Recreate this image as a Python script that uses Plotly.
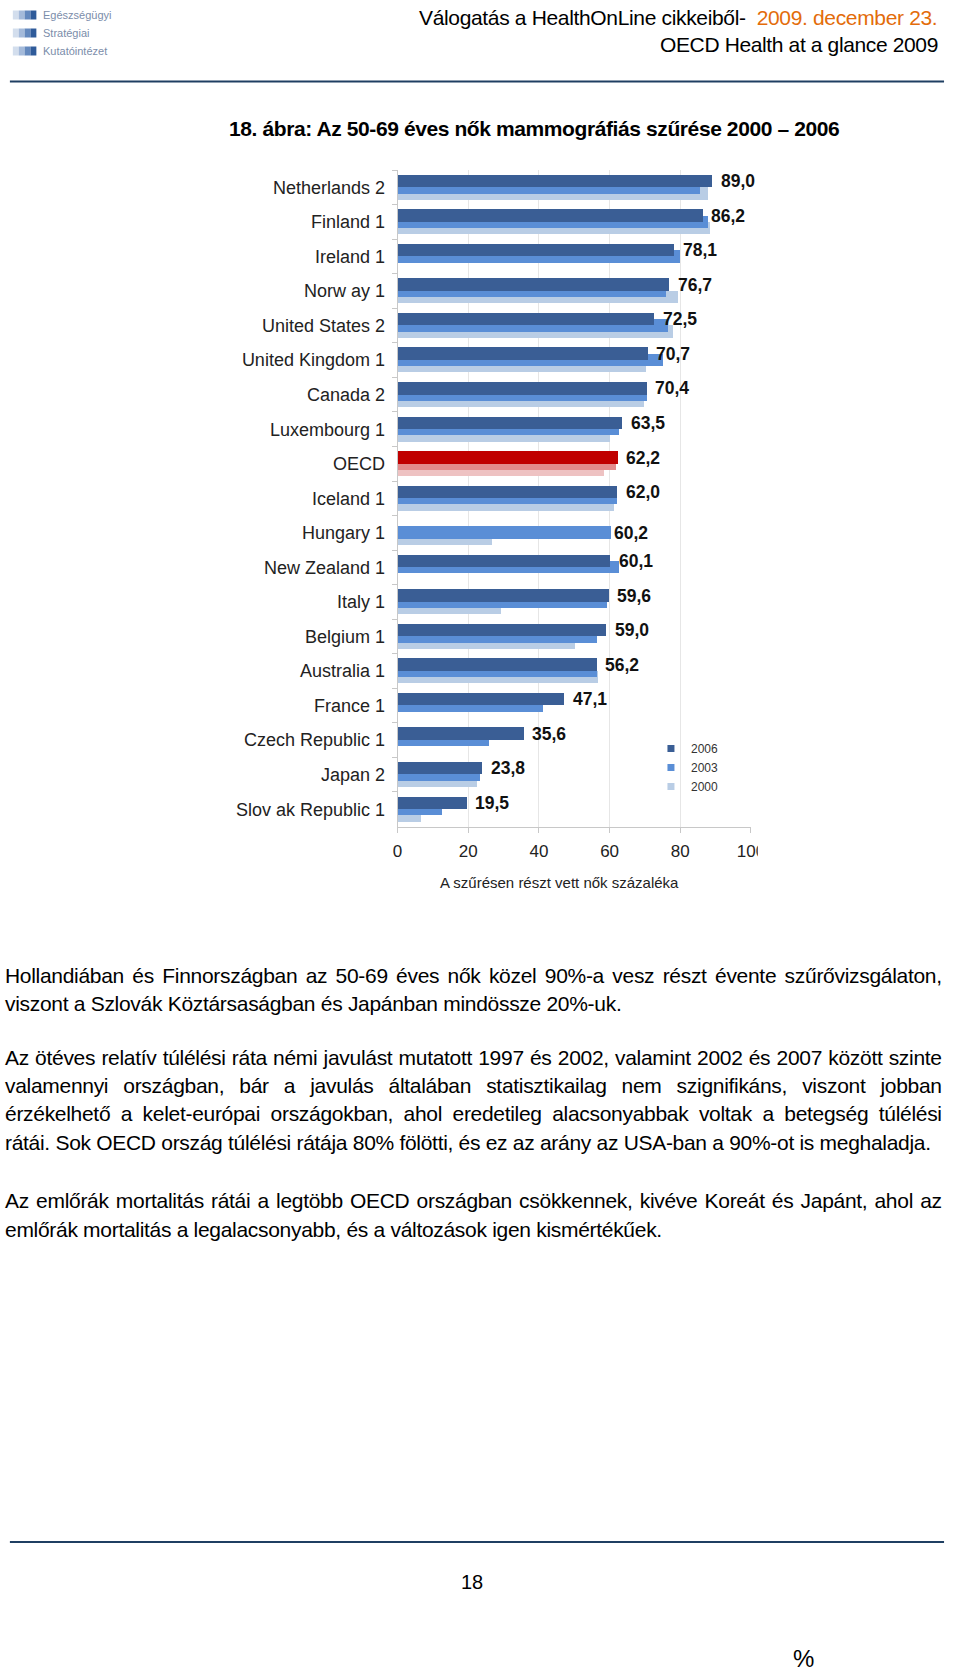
import plotly.graph_objects as go

# --- data ---
countries = ["Netherlands 2", "Finland 1", "Ireland 1", "Norw ay 1", "United States 2",
             "United Kingdom 1", "Canada 2", "Luxembourg 1", "OECD", "Iceland 1",
             "Hungary 1", "New Zealand 1", "Italy 1", "Belgium 1", "Australia 1",
             "France 1", "Czech Republic 1", "Japan 2", "Slov ak Republic 1"]
years = ["2000", "2003", "2006"]
v2006 = [89.0, 86.2, 78.1, 76.7, 72.5, 70.7, 70.4, 63.5, 62.2, 62.0,
         None, 60.1, 59.6, 59.0, 56.2, 47.1, 35.6, 23.8, 19.5]
v2003 = [85.4, 87.7, 79.7, 75.8, 76.4, 75.0, 70.5, 62.5, 61.6, 62.0,
         60.2, 62.5, 59.2, 56.3, 56.3, 41.0, 25.8, 23.3, 12.4]
v2000 = [87.7, 88.2, None, 79.2, 77.8, 70.1, 69.6, 60.1, 58.2, 61.0,
         26.7, None, 29.1, 50.0, 56.7, None, None, 22.4, 6.6]
x_ticks = [0, 20, 40, 60, 80, 100]

W, H = 960, 1667
ARIAL = "Liberation Sans, Arial, sans-serif"

colors = {"2006": "#3A5E95", "2003": "#5A8ED6", "2000": "#B9CDE5"}
oecd_colors = {"2006": "#C00000", "2003": "#E38C8C", "2000": "#EEC2C2"}
bar_w = 0.362
offsets = {"2006": -bar_w, "2003": -bar_w / 2, "2000": 0.0}
values = {"2000": v2000, "2003": v2003, "2006": v2006}
cat_px = 34.54  # pixels per category row

# Arial / Liberation Sans advance widths (1/1000 em), used to squeeze the
# page text into the narrow-font widths of the original document
AR = dict(zip("abcdefghijklmnopqrstuvwxyz",
              [556, 556, 500, 556, 556, 278, 556, 556, 222, 222, 500, 222, 833,
               556, 556, 556, 556, 333, 500, 278, 556, 500, 722, 500, 500, 500]))
AR.update(zip("ABCDEFGHIJKLMNOPQRSTUVWXYZ",
              [667, 667, 722, 722, 667, 611, 778, 722, 278, 500, 667, 556, 833,
               722, 778, 667, 778, 722, 667, 611, 722, 667, 944, 667, 667, 611]))
AR.update({c: 556 for c in "0123456789áéóöőúüű–"})
AR.update({" ": 278, ",": 278, ".": 278, "-": 333, "%": 889, ":": 278, "í": 278,
           "\u00a0": 278, "Ö": 778, "Ü": 722, "Á": 667, "É": 667})
ARB = dict(AR)
ARB.update(zip("abcdefghijklmnopqrstuvwxyz",
               [556, 611, 556, 611, 556, 333, 611, 611, 278, 278, 556, 278, 889,
                611, 611, 611, 611, 389, 556, 333, 611, 556, 778, 556, 556, 500]))
ARB.update({c: 611 for c in "óöőúüű"})
ARB.update({":": 333, "A": 722})


def text_width(s, size, bold=False):
    tbl = ARB if bold else AR
    return sum(tbl.get(ch, 556) for ch in s) / 1000.0 * size


def fit_style(s, size, target, bold=False):
    ls = (target - text_width(s, size, bold)) / len(s)
    return f"letter-spacing:{ls:.2f}px"


def px(x):
    return x / W


def py(y):
    return 1 - y / H


fig = go.Figure()

# bars: 2000 drawn first, 2006 last (on top), 50% overlap like the Excel original
for yr in years:
    cols = [oecd_colors[yr] if c == "OECD" else colors[yr] for c in countries]
    fig.add_trace(go.Bar(
        x=values[yr], y=countries, orientation="h",
        width=bar_w, offset=offsets[yr],
        marker=dict(color=cols, line=dict(width=0)),
        showlegend=False, hoverinfo="skip"))

# small square legend markers
for yr in years:
    fig.add_trace(go.Scatter(
        x=[None], y=[None], mode="markers", name=yr,
        marker=dict(symbol="square", size=7, color=colors[yr])))

# value labels: latest available year
annotations = []
for c, a, b in zip(countries, v2006, v2003):
    if a is not None:
        val, shift, xs = a, bar_w / 2 * cat_px, 7
    else:
        val, shift, xs = b, 0, 2
    annotations.append(dict(
        x=val, y=c, xref="x", yref="y",
        text="<b>" + f"{val:.1f}".replace(".", ",") + "</b>",
        showarrow=False, xanchor="left", yanchor="middle", xshift=xs, yshift=shift,
        font=dict(family=ARIAL, size=17.5, color="#111111")))


def page_text(x, y, text, size, anchor="left", color="#000000"):
    annotations.append(dict(
        x=px(x), y=py(y), xref="paper", yref="paper", text=text, showarrow=False,
        xanchor=anchor, yanchor="middle", font=dict(family=ARIAL, size=size, color=color)))


# header (left anchored: plotly measures the text without the letter spacing)
BODY = 21
h1a = "Válogatás a HealthOnLine cikkeiből-\u00a0 "
h1b = "2009. december 23."
st = fit_style(h1a + h1b, BODY, 518)
page_text(938 - 518, 17, f"<span style='{st}'>{h1a}</span>"
          f"<span style='{st};color:#E36C0A'>{h1b}</span>", BODY)
h2 = "OECD Health at a glance 2009"
page_text(944 - 278, 44, f"<span style='{fit_style(h2, BODY, 278)}'>{h2}</span>", BODY)

title = "18. ábra: Az 50-69 éves nők mammográfiás szűrése 2000 – 2006"
page_text(532 - 611 / 2, 129,
          f"<b><span style='{fit_style(title, BODY, 611, True)}'>{title}</span></b>", BODY)

# logo
for yy, word in zip([15, 33, 51], ["Egészségügyi", "Stratégiai", "Kutatóintézet"]):
    page_text(37, yy, word, 11, color="#7B8DAA")

page_text(566, 883, "A szűrésen részt vett nők százaléka", 15, "center", color="#222222")

# body text, justified lines get extra word spacing
body = [
    (975, True, "Hollandiában és Finnországban az 50-69 éves nők közel 90%-a vesz részt évente szűrővizsgálaton,"),
    (1003, False, "viszont a Szlovák Köztársaságban és Japánban mindössze 20%-uk."),
    (1057, True, "Az ötéves relatív túlélési ráta némi javulást mutatott 1997 és 2002, valamint 2002 és 2007 között szinte"),
    (1085, True, "valamennyi országban, bár a javulás általában statisztikailag nem szignifikáns, viszont jobban"),
    (1113, True, "érzékelhető a kelet-európai országokban, ahol eredetileg alacsonyabbak voltak a betegség túlélési"),
    (1142, False, "rátái. Sok OECD ország túlélési rátája 80% fölötti, és ez az arány az USA-ban a 90%-ot is meghaladja."),
    (1200, True, "Az emlőrák mortalitás rátái a legtöbb OECD országban csökkennek, kivéve Koreát és Japánt, ahol az"),
    (1229, False, "emlőrák mortalitás a legalacsonyabb, és a változások igen kismértékűek."),
]
ref_line = body[5][2]
LS = (926 - text_width(ref_line, BODY)) / len(ref_line)
LEFT, RIGHT = -2, 935
for yy, justify, line in body:
    style = f"letter-spacing:{LS:.2f}px"
    if justify:
        natural = text_width(line, BODY) + LS * len(line)
        ws = (RIGHT - LEFT - natural) / line.count(" ")
        style += f";word-spacing:{ws:.2f}px"
    page_text(LEFT, yy, f"<span style='{style}'>{line}</span>", BODY)

page_text(476, 1582, "18", 20, "center")
page_text(815, 1658, "%", 24, "center")

shapes = [
    dict(type="line", xref="paper", yref="paper", x0=px(5), x1=px(958), y0=py(81.5), y1=py(81.5),
         line=dict(color="#1F3F62", width=2)),
    dict(type="line", xref="paper", yref="paper", x0=px(5), x1=px(958), y0=py(1542), y1=py(1542),
         line=dict(color="#1F3F62", width=2)),
    # the chart picture is cropped just after the "100" tick
    dict(type="rect", xref="paper", yref="paper", x0=px(768), x1=px(800), y0=py(836), y1=py(866),
         fillcolor="white", line=dict(width=0), layer="above"),
]
# logo bars, fading to the left
for yy in [15, 33, 51]:
    for x0, col in [(8, "#D3DEED"), (14, "#A4BADA"), (20, "#6489BE"), (26, "#2F5B9A")]:
        shapes.append(dict(type="rect", xref="paper", yref="paper", x0=px(x0), x1=px(x0 + 6),
                           y0=py(yy - 4.5), y1=py(yy + 4.5), fillcolor=col, line=dict(width=0)))

fig.update_layout(
    width=W, height=H, margin=dict(l=0, r=0, t=0, b=0),
    paper_bgcolor="white", plot_bgcolor="white",
    barmode="overlay", bargap=0,
    annotations=annotations, shapes=shapes,
    legend=dict(x=px(659), y=py(734), xanchor="left", yanchor="top",
                font=dict(family=ARIAL, size=12, color="#333333"),
                bgcolor="rgba(0,0,0,0)", itemclick=False, traceorder="reversed"),
    xaxis=dict(domain=[px(400.5), px(761)], range=[0, 100], tickvals=x_ticks,
               showgrid=True, gridcolor="#E6E6E6", gridwidth=1, zeroline=False,
               showline=True, linecolor="#C8C8C8", linewidth=1,
               ticks="outside", ticklen=5, tickcolor="#C8C8C8", ticklabelstandoff=4,
               tickfont=dict(family=ARIAL, size=17, color="#222222")),
    yaxis=dict(domain=[py(826.5), py(170.2)], type="category", categoryorder="array",
               categoryarray=countries, range=[len(countries) - 0.5, -0.5],
               showgrid=False, zeroline=False, showline=True, linecolor="#C8C8C8",
               ticks="outside", ticklen=5, tickcolor="#C8C8C8", tickson="boundaries",
               ticklabelstandoff=8,
               tickfont=dict(family=ARIAL, size=18, color="#222222")),
)

# the page itself has no margin, so the figure fills the window exactly
fig.write_html("out.html", config={"displayModeBar": False},
               post_script="document.body.style.margin='0';")
